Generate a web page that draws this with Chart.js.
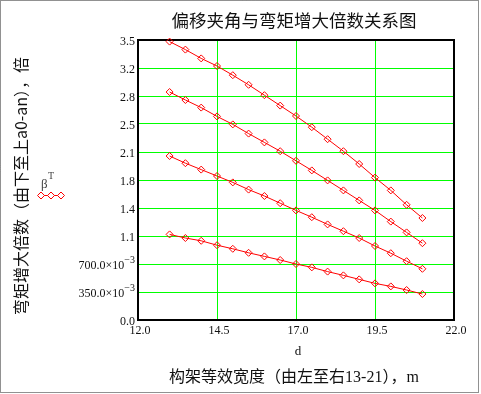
<!DOCTYPE html>
<html>
<head>
<meta charset="utf-8">
<script src="https://cdn.jsdelivr.net/npm/chart.js@4/dist/chart.umd.min.js"></script>
<style>
  html, body { margin: 0; padding: 0; background: #fff; }
  canvas { display: block; }
</style>
</head>
<body>
<canvas id="momentChart" width="481" height="394"></canvas>
<script>
// frame width d, 13 to 21 m
const widths = [13, 13.5, 14, 14.5, 15, 15.5, 16, 16.5, 17, 17.5, 18, 18.5, 19, 19.5, 20, 20.5, 21];

// moment amplification factor, one row per offset angle (top to bottom)
const beta1 = [3.48, 3.38, 3.27, 3.175, 3.06, 2.94, 2.81, 2.68, 2.55, 2.41, 2.26, 2.11, 1.95, 1.78, 1.62, 1.44, 1.275];
const beta2 = [2.85, 2.75, 2.655, 2.545, 2.445, 2.33, 2.22, 2.11, 1.99, 1.87, 1.745, 1.62, 1.495, 1.37, 1.23, 1.095, 0.96];
const beta3 = [2.05, 1.96, 1.88, 1.80, 1.72, 1.63, 1.55, 1.46, 1.37, 1.285, 1.195, 1.11, 1.025, 0.925, 0.835, 0.735, 0.64];
const beta4 = [1.07, 1.025, 0.99, 0.935, 0.89, 0.84, 0.795, 0.75, 0.70, 0.658, 0.605, 0.558, 0.508, 0.458, 0.42, 0.375, 0.325];

const xTickValues = [12, 14.5, 17, 19.5, 22];
const xTickLabels = ["12.0", "14.5", "17.0", "19.5", "22.0"];
const yTickValues = [0, 0.35, 0.7, 1.05, 1.4, 1.75, 2.1, 2.45, 2.8, 3.15, 3.5];
const yTickLabels = ["0.0", "350.0×10^−3", "700.0×10^−3", "1.1", "1.4", "1.8", "2.1", "2.5", "2.8", "3.2", "3.5"];

const chartTitle = "偏移夹角与弯矩增大倍数关系图";
const xAxisName = "d";
const xAxisTitle = "构架等效宽度（由左至右13-21），m";
const yAxisTitle = "弯矩增大倍数（由下至上a0-an），倍";

const serif = '"Liberation Serif", "Times New Roman", serif';
const cjk = '"Noto Sans CJK SC", sans-serif';
const tickFont = "12px " + serif;
const supFont = "10px " + serif;

function toPoints(values) {
  return values.map((v, i) => ({ x: widths[i], y: v }));
}

function makeSeries(values) {
  return {
    data: toPoints(values),
    borderColor: "#ff0000",
    borderWidth: 1,
    pointStyle: "rectRot",
    pointRadius: 3.5,
    pointBorderWidth: 1,
    pointBorderColor: "#ff0000",
    pointBackgroundColor: "rgba(255,255,255,0)",
    tension: 0,
    clip: false,
  };
}

// text with an optional superscript part after "^", right aligned
function drawTickText(ctx, text, xRight, y) {
  const [base, exp] = text.split("^");
  ctx.font = tickFont;
  const wb = ctx.measureText(base).width;
  let we = 0;
  if (exp) {
    ctx.font = supFont;
    we = ctx.measureText(exp).width;
  }
  ctx.textAlign = "left";
  ctx.textBaseline = "middle";
  ctx.font = tickFont;
  ctx.fillText(base, xRight - wb - we, y);
  if (exp) {
    ctx.font = supFont;
    ctx.fillText(exp, xRight - we, y - 6);
  }
}

const mathcadLook = {
  id: "mathcadLook",
  beforeDatasetsDraw(chart) {
    const { ctx, chartArea: a } = chart;
    ctx.save();
    ctx.strokeStyle = "#000";
    ctx.lineWidth = 2;
    ctx.strokeRect(a.left, a.top, a.right - a.left, a.bottom - a.top);
    ctx.restore();
  },
  afterDraw(chart) {
    const { ctx, chartArea: a } = chart;
    const xs = chart.scales.x;
    const ys = chart.scales.y;
    ctx.save();
    ctx.fillStyle = "#111";

    // y tick labels
    yTickValues.forEach((v, i) => {
      drawTickText(ctx, yTickLabels[i], a.left - 3, ys.getPixelForValue(v) + 2);
    });

    // x tick labels
    ctx.font = tickFont;
    ctx.textAlign = "center";
    ctx.textBaseline = "middle";
    xTickValues.forEach((v, i) => {
      ctx.fillText(xTickLabels[i], xs.getPixelForValue(v) + 2, a.bottom + 11);
    });

    // axis names
    ctx.font = "13px " + serif;
    ctx.fillText(xAxisName, (a.left + a.right) / 2 + 2, a.bottom + 32);

    ctx.font = "16px " + serif + ", " + cjk;
    ctx.fillText(xAxisTitle, 294, 378);

    ctx.font = "17.5px " + cjk;
    ctx.fillText(chartTitle, 294, 20);

    ctx.save();
    ctx.translate(21, 186);
    ctx.rotate(-Math.PI / 2);
    ctx.font = "16px " + cjk;
    ctx.fillText(yAxisTitle, 0, 0);
    ctx.restore();

    // legend
    ctx.strokeStyle = "#ff0000";
    ctx.fillStyle = "#ffffff";
    ctx.lineWidth = 1;
    ctx.beginPath();
    ctx.moveTo(39, 195.5);
    ctx.lineTo(63, 195.5);
    ctx.stroke();
    [41, 51, 61].forEach((lx) => {
      Chart.helpers.drawPoint(ctx, { pointStyle: "rectRot", radius: 3.5, borderWidth: 1 }, lx, 195.5);
    });
    ctx.fillStyle = "#444";
    ctx.textAlign = "left";
    ctx.font = "13px " + serif;
    ctx.fillText("β", 41, 185);
    ctx.font = "10px " + serif;
    ctx.fillText("T", 48, 176);

    // dotted frame around the region
    ctx.strokeStyle = "#222";
    ctx.setLineDash([1, 1]);
    ctx.strokeRect(0.5, 0.5, 478, 392);
    ctx.restore();
  },
};

function axisOptions(min, max, ticks) {
  return {
    type: "linear",
    min: min,
    max: max,
    afterBuildTicks: (scale) => {
      scale.ticks = ticks.map((v) => ({ value: v }));
    },
    ticks: { display: false },
    grid: { color: "#00ff00", lineWidth: 1, drawTicks: false },
    border: { display: false },
    title: { display: false },
  };
}

new Chart(document.getElementById("momentChart").getContext("2d"), {
  type: "line",
  data: {
    datasets: [makeSeries(beta1), makeSeries(beta2), makeSeries(beta3), makeSeries(beta4)],
  },
  options: {
    responsive: false,
    devicePixelRatio: 1,
    animation: false,
    layout: { padding: { left: 138, top: 40, right: 27, bottom: 74 } },
    plugins: {
      legend: { display: false },
      title: { display: false },
      tooltip: { enabled: false },
    },
    scales: {
      x: axisOptions(12, 22, xTickValues),
      y: axisOptions(0, 3.5, yTickValues),
    },
  },
  plugins: [mathcadLook],
});
</script>
</body>
</html>
